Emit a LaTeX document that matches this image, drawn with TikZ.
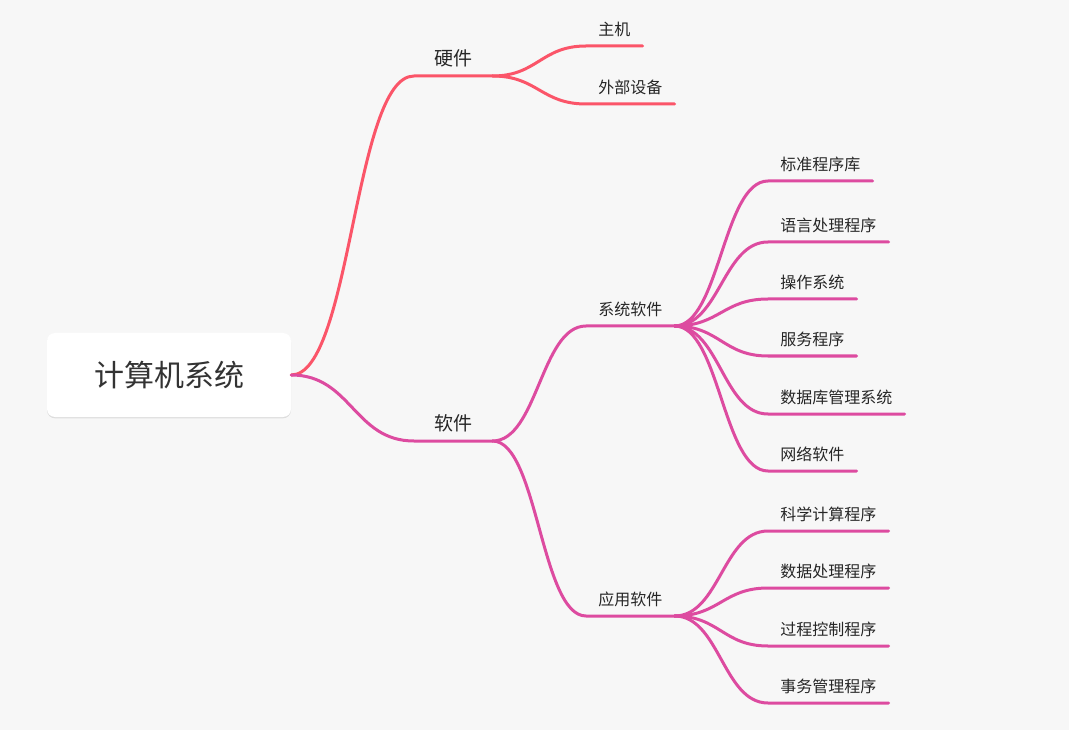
\documentclass[tikz,border=0pt]{standalone}
\usepackage{fontspec}
\setmainfont{Noto Sans CJK SC}
\usetikzlibrary{shadows}
\definecolor{rouge}{HTML}{FB5569}
\definecolor{rose}{HTML}{DD4BA0}
\definecolor{fond}{HTML}{F7F7F7}

\begin{document}
\begin{tikzpicture}[x=0.75pt, y=-0.75pt,
  racine/.style={fill=white, rounded corners=6pt, minimum width=183pt, minimum height=63pt,
    text=black!80, font=\fontsize{22.5}{26}\selectfont,
    drop shadow={shadow xshift=0pt, shadow yshift=-1pt, opacity=0.10, fill=black}},
  niveau1/.style={anchor=south west, inner xsep=15pt, inner ysep=7.5pt, text depth=0pt,
    text=black!85, font=\fontsize{14.25}{17}\selectfont},
  niveau2/.style={anchor=south west, inner xsep=9pt, inner ysep=7.5pt, text depth=0pt,
    text=black!85, font=\fontsize{12}{14}\selectfont},
  lien/.style={line width=2.25pt, line cap=round}]
  % Fond
  \fill[fond] (0,0) rectangle (1069,730);
  % Racine
  \node[racine] (sys) at (169,375) {计算机系统};
  % Premier niveau
  \node[niveau1] (mat) at (414,76) {硬件};
  \node[niveau1] (log) at (414,441) {软件};
  \draw[lien, rouge] (sys.east) .. controls +(60,0) and +(-60,0) .. (mat.south west) -- (mat.south east);
  \draw[lien, rose] (sys.east) .. controls +(60,0) and +(-60,0) .. (log.south west) -- (log.south east);
  % Materiel
  \node[niveau2] (hote) at (586,46) {主机};
  \node[niveau2] (periph) at (586,104) {外部设备};
  \draw[lien, rouge] (mat.south east) .. controls +(45,0) and +(-45,0) .. (hote.south west) -- (hote.south east);
  \draw[lien, rouge] (mat.south east) .. controls +(45,0) and +(-45,0) .. (periph.south west) -- (periph.south east);
  % Logiciel
  \node[niveau2] (lsys) at (586,326) {系统软件};
  \node[niveau2] (lapp) at (586,616) {应用软件};
  \draw[lien, rose] (log.south east) .. controls +(45,0) and +(-45,0) .. (lsys.south west) -- (lsys.south east);
  \draw[lien, rose] (log.south east) .. controls +(45,0) and +(-45,0) .. (lapp.south west) -- (lapp.south east);
  % Logiciels systeme
  \node[niveau2] (bib) at (768,181) {标准程序库};
  \node[niveau2] (lang) at (768,242) {语言处理程序};
  \node[niveau2] (os) at (768,299) {操作系统};
  \node[niveau2] (serv) at (768,356) {服务程序};
  \node[niveau2] (sgbd) at (768,414) {数据库管理系统};
  \node[niveau2] (res) at (768,471) {网络软件};
  \foreach \f in {bib,lang,os,serv,sgbd,res}
    \draw[lien, rose] (lsys.south east) .. controls +(45,0) and +(-45,0) .. (\f.south west) -- (\f.south east);
  % Logiciels d'application
  \node[niveau2] (calc) at (768,531) {科学计算程序};
  \node[niveau2] (donn) at (768,588) {数据处理程序};
  \node[niveau2] (ctrl) at (768,646) {过程控制程序};
  \node[niveau2] (gest) at (768,703) {事务管理程序};
  \foreach \f in {calc,donn,ctrl,gest}
    \draw[lien, rose] (lapp.south east) .. controls +(45,0) and +(-45,0) .. (\f.south west) -- (\f.south east);
\end{tikzpicture}
\end{document}
